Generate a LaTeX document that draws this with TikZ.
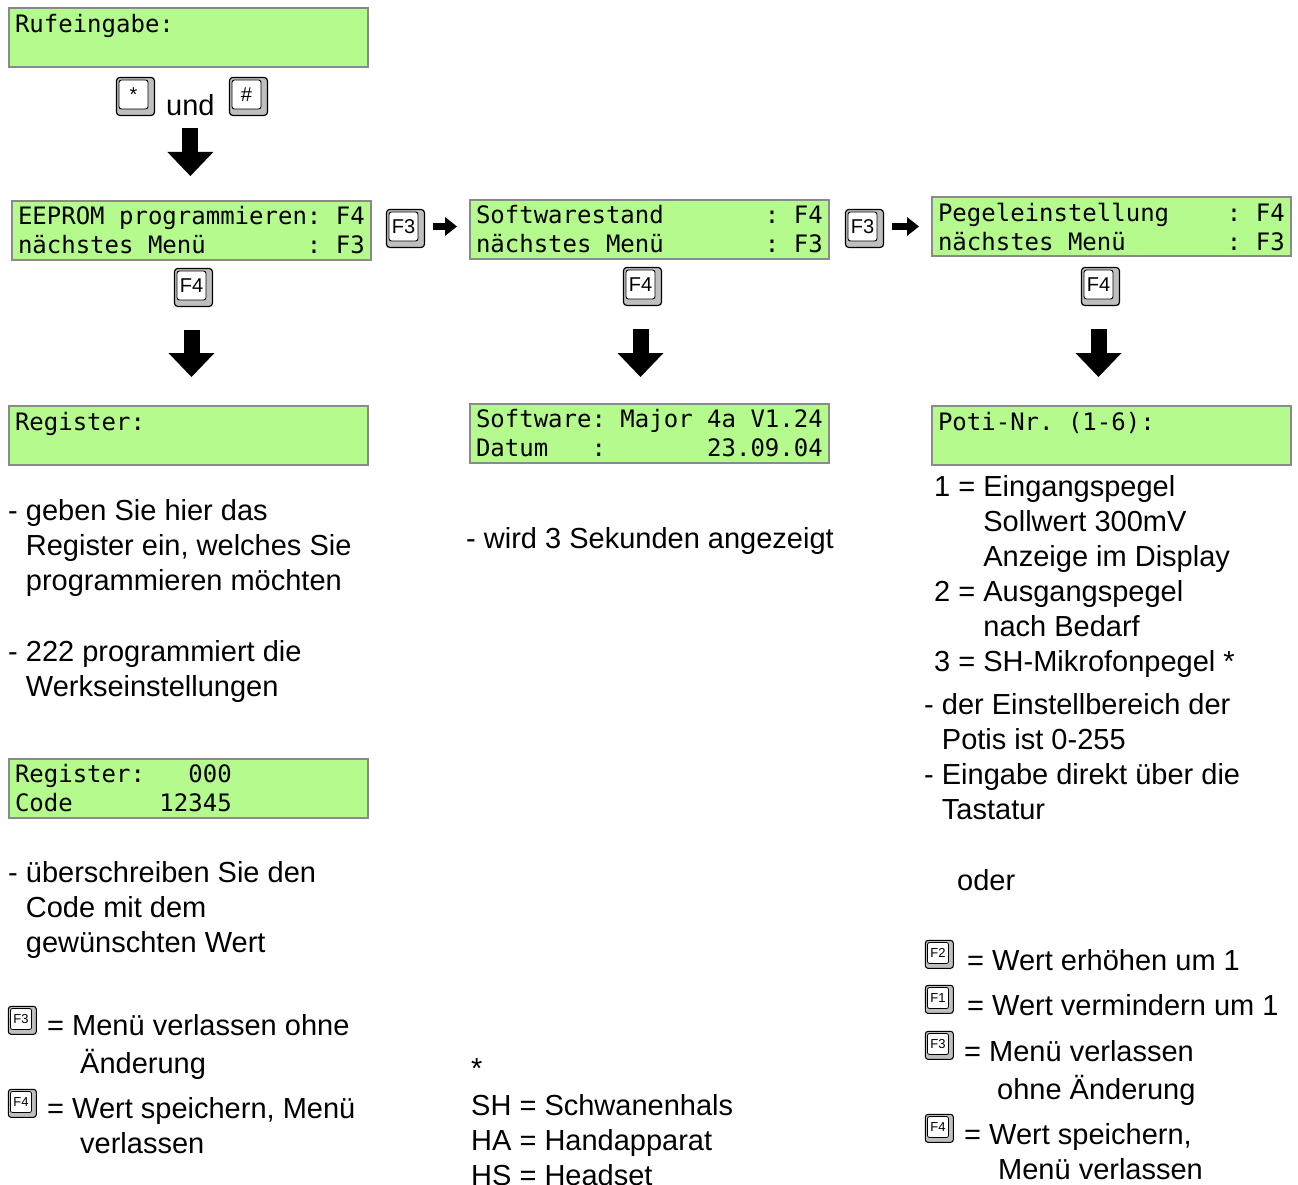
\documentclass[tikz,border=0pt]{standalone}
\usepackage{fontspec}
\setmainfont{Liberation Sans}
\newfontfamily\lcdfont{DejaVu Sans Mono}
\usetikzlibrary{arrows.meta,shadows}

\definecolor{lcdgreen}{RGB}{180,250,140}
\definecolor{lcdframe}{RGB}{138,138,138}

\tikzset{
  lcd/.style={draw=lcdframe, line width=2pt, fill=lcdgreen, anchor=north west,
    minimum width=359pt, minimum height=59pt, text width=347pt,
    inner xsep=6pt, inner ysep=0pt, align=left,
    font=\lcdfont\fontsize{24}{29}\selectfont,
    % monospaced blanks for the display lines
    execute at begin node={\frenchspacing\spaceskip=0.602em\xspaceskip=0.602em}},
  txt/.style={anchor=base west, inner sep=0pt, align=left,
    font=\fontsize{29}{35}\selectfont},
  keycap/.style={draw, line width=0.9pt, fill=white, rounded corners=2.5pt,
    inner sep=0pt, minimum size=29pt, font=\fontsize{20}{20}\selectfont,
    general shadow={draw, line width=0.9pt, fill=gray!50, shadow scale=1.31,
      shadow xshift=1.5pt, shadow yshift=-1.5pt}},
  smallkey/.style={draw, line width=0.8pt, fill=white, rounded corners=2pt,
    inner sep=0pt, minimum size=21pt, font=\fontsize{13}{13}\selectfont,
    general shadow={draw, line width=0.8pt, fill=gray!50, shadow scale=1.33,
      shadow xshift=1pt, shadow yshift=-1pt}},
  fatarrow/.style={line width=16pt, -{Triangle[length=24pt,width=46pt,line width=0pt]}},
  slimarrow/.style={line width=7pt, -{Triangle[length=12pt,width=19pt,line width=0pt]},
    shorten <=15pt, shorten >=12pt},
}

\begin{document}
\begin{tikzpicture}[x=1pt, y=-1pt]
\useasboundingbox (0,0) rectangle (1298,1185);

% Rufeingabe
\node [lcd] (ruf) at (8,7) {Rufeingabe:\\~};
\node [keycap] (key-star) at (133.5,94.5) {*};
\node [txt] (und) at (166,116) {und};
\node [keycap] (key-hash) at (246.5,94.5) {\#};

% menu row
\node [lcd] (eeprom) at (11,200) {EEPROM programmieren: F4\\nächstes Menü~~~~~~~: F3};
\node [keycap] (f3-a) at (403.5,226.5) {F3};
\node [lcd] (softw) at (469,199) {Softwarestand~~~~~~~: F4\\nächstes Menü~~~~~~~: F3};
\node [keycap] (f3-b) at (862.5,226.5) {F3};
\node [lcd] (pegel) at (931,196) {Pegeleinstellung~~~~: F4\\nächstes Menü~~~~~~~: F3};
\draw [fatarrow, shorten <=12pt, shorten >=24pt] (und.south) -- (und.south |- eeprom.north);
\draw [slimarrow] (f3-a.east) -- (f3-a.east -| softw.west);
\draw [slimarrow] (f3-b.east) -- (f3-b.east -| pegel.west);

\node [keycap] (f4-a) at (191.5,285.5) {F4};
\node [keycap] (f4-b) at (640.5,284.5) {F4};
\node [keycap] (f4-c) at (1098.5,284.5) {F4};

% sub menus
\node [lcd] (register) at (8,405) {Register:\\~};
\node [lcd] (softinfo) at (469,403) {Software: Major 4a V1.24\\Datum~~~:~~~~~~~23.09.04};
\node [lcd] (poti) at (931,405) {Poti-Nr. (1-6):\\~};
\draw [fatarrow, shorten <=30pt, shorten >=28pt] (f4-a.south) -- (f4-a.south |- register.north);
\draw [fatarrow, shorten <=30pt, shorten >=26pt] (f4-b.south) -- (f4-b.south |- softinfo.north);
\draw [fatarrow, shorten <=30pt, shorten >=28pt] (f4-c.south) -- (f4-c.south |- poti.north);

% left column
\node [txt] (reg-note) at (8,590) {- geben Sie hier das\\\phantom{- }Register ein, welches Sie\\\phantom{- }programmieren möchten};
\node [txt] (reg-werk) at (8,696) {- 222 programmiert die\\\phantom{- }Werkseinstellungen};
\node [lcd] (regcode) at (8,758) {Register:~~~000\\Code~~~~~~12345};
\node [txt] (code-note) at (8,952) {- überschreiben Sie den\\\phantom{- }Code mit dem\\\phantom{- }gewünschten Wert};

\node [smallkey] (l-f3) at (21,1019) {F3};
\node [txt] (l-f3-txt) at (47,1073) {= Menü verlassen ohne\\[3pt]\hspace*{33pt}Änderung};
\node [smallkey] (l-f4) at (21,1102) {F4};
\node [txt] (l-f4-txt) at (47,1153) {= Wert speichern, Menü\\\hspace*{33pt}verlassen};

% middle column
\node [txt] (soft-note) at (466,548) {- wird 3 Sekunden angezeigt};
\node [txt] (legend) at (471,1185) {*\\[2pt]SH = Schwanenhals\\HA = Handapparat\\HS = Headset};

% right column
\node [txt] (poti-list) at (934,671) {1 = Eingangspegel\\\phantom{1 = }Sollwert 300mV\\\phantom{1 = }Anzeige im Display\\2 = Ausgangspegel\\\phantom{2 = }nach Bedarf\\3 = SH-Mikrofonpegel *};
\node [txt] (poti-note) at (924,819) {- der Einstellbereich der\\\phantom{- }Potis ist 0-255\\- Eingabe direkt über die\\\phantom{- }Tastatur};
\node [txt] (oder) at (957,890) {oder};

\node [smallkey] (r-f2) at (938,953) {F2};
\node [txt] (r-f2-txt) at (967,970) {= Wert erhöhen um 1};
\node [smallkey] (r-f1) at (938,998) {F1};
\node [txt] (r-f1-txt) at (967,1015) {= Wert vermindern um 1};
\node [smallkey] (r-f3) at (938,1044) {F3};
\node [txt] (r-f3-txt) at (964,1099) {= Menü verlassen\\[3pt]\hspace*{33pt}ohne Änderung};
\node [smallkey] (r-f4) at (938,1127) {F4};
\node [txt] (r-f4-txt) at (964,1179) {= Wert speichern,\\\hspace*{34pt}Menü verlassen};

\end{tikzpicture}
\end{document}
